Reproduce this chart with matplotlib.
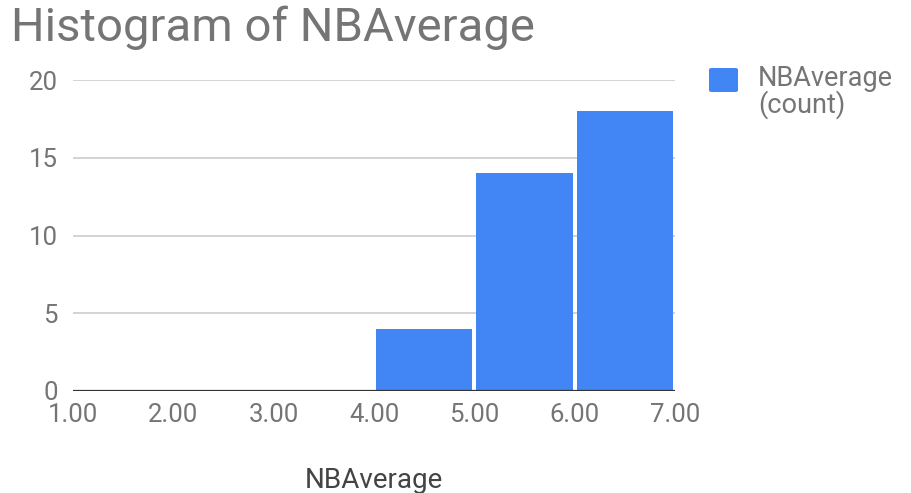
import matplotlib
matplotlib.use("Agg")
import matplotlib.pyplot as plt
from matplotlib.patches import FancyBboxPatch

plt.rcParams['font.family'] = ['Roboto', 'DejaVu Sans']

# Histogram data
bin_edges = [1.0, 2.0, 3.0, 4.0, 5.0, 6.0, 7.0]
counts = [0, 0, 0, 4, 14, 18]
x_tick_labels = ["1.00", "2.00", "3.00", "4.00", "5.00", "6.00", "7.00"]
y_ticks = [0, 5, 10, 15, 20]
legend_label = "NBAverage\n(count)"
title = "Histogram of NBAverage"
x_label = "NBAverage"

BLUE = "#4285F4"
TEXT = "#757575"
GRID = "#CCCCCC"

W, H = 911, 493
fig = plt.figure(figsize=(W / 100, H / 100), dpi=100)
ax = fig.add_axes([73 / W, 102 / H, 602 / W, 311 / H])
ax.set_xlim(bin_edges[0], bin_edges[-1])
ax.set_ylim(0, 20)

# Bars with a thin white gap between neighbours
gap = 0.04
for left, right, c in zip(bin_edges[:-1], bin_edges[1:], counts):
    if c <= 0:
        continue
    ax.bar(left + gap / 2, c, width=(right - left) - gap, align='edge',
           color=BLUE, linewidth=0, zorder=3)

ax.set_yticks(y_ticks)
ax.set_yticklabels([str(t) for t in y_ticks])
ax.set_xticks(bin_edges)
ax.set_xticklabels(x_tick_labels)

for t in y_ticks[1:]:
    ax.axhline(t, color=GRID, linewidth=1.2, zorder=1)
ax.axhline(0, color="#333333", linewidth=1.6, zorder=4)

for s in ax.spines.values():
    s.set_visible(False)
ax.tick_params(axis='both', length=0, colors=TEXT, labelsize=18.5)
ax.tick_params(axis='y', pad=11)
ax.tick_params(axis='x', pad=9)

ax.set_xlabel(x_label, fontsize=20, color="#444444")
ax.xaxis.label.set_va('baseline')
ax.xaxis.set_label_coords(0.5, (391 - 488) / 311)

fig.text(11 / W, 1 - 41 / H, title, fontsize=34, color=TEXT,
         ha='left', va='baseline')

# Legend swatch and label
fig.patches.append(FancyBboxPatch((709 / W, 1 - 92 / H), 29 / W, 24 / H,
                                  boxstyle="round,pad=0,rounding_size=0.003",
                                  transform=fig.transFigure, facecolor=BLUE,
                                  edgecolor='none'))
fig.text(758 / W, 1 - 113 / H, legend_label, fontsize=19.5, color=TEXT,
         ha='left', va='baseline', linespacing=0.95)

fig.savefig("out.png", dpi=100)
